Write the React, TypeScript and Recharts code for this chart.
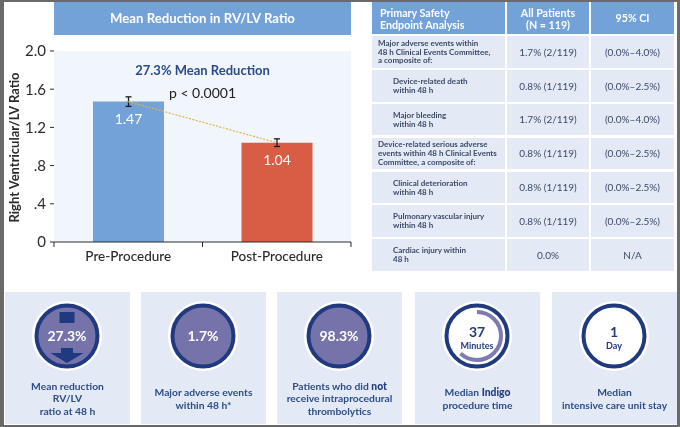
import React from "react";
import { ComposedChart, Bar, Line, XAxis, YAxis, CartesianGrid, Cell, ErrorBar, LabelList } from "recharts";

const categories = ["Pre-Procedure", "Post-Procedure"];
const means = [1.47, 1.04];
const errorHalf = [0.05, 0.04];
const barColors = ["#72A2D8", "#D95D45"];
const yTicks = [0, 0.4, 0.8, 1.2, 1.6, 2.0];
const yTickLabels = ["0", ".4", ".8", "1.2", "1.6", "2.0"];
const chartData = categories.map((name, i) => ({ name, mean: means[i], err: errorHalf[i] }));

const tableHeader = ["Primary Safety\nEndpoint Analysis", "All Patients\n(N = 119)", "95% CI"];
const rowLabels = [
  "Major adverse events within\n48 h Clinical Events Committee,\na composite of:",
  "Device-related death\nwithin 48 h",
  "Major bleeding\nwithin 48 h",
  "Device-related serious adverse\nevents within 48 h Clinical Events\nCommittee, a composite of:",
  "Clinical deterioration\nwithin 48 h",
  "Pulmonary vascular injury\nwithin 48 h",
  "Cardiac injury within\n48 h",
];
const rowIndented = [false, true, true, false, true, true, true];
const rowValues = ["1.7% (2/119)", "0.8% (1/119)", "1.7% (2/119)", "0.8% (1/119)", "0.8% (1/119)", "0.8% (1/119)", "0.0%"];
const rowCI = ["(0.0%–4.0%)", "(0.0%–2.5%)", "(0.0%–4.0%)", "(0.0%–2.5%)", "(0.0%–2.5%)", "(0.0%–2.5%)", "N/A"];
const rowTops = [36, 70, 104, 138, 172, 205, 239];
const rowHeights = [32, 32, 31, 31, 31, 32, 32];

const cards = [
  { left: 5, big: "27.3%", small: "", kind: "arrow", label: [["Mean reduction"], ["RV/LV"], ["ratio at 48 h"]] },
  { left: 141, big: "1.7%", small: "", kind: "fill", label: [["Major adverse events"], ["within 48 h*"]] },
  { left: 277, big: "98.3%", small: "", kind: "fill", label: [["Patients who did ", "not"], ["receive intraprocedural"], ["thrombolytics"]] },
  { left: 415, big: "37", small: "Minutes", kind: "gauge", label: [["Median ", "Indigo"], ["procedure time"]] },
  { left: 552, big: "1", small: "Day", kind: "ring", label: [["Median"], ["intensive care unit stay"]] },
];

const FONT = "Lato, sans-serif";
const NAVY = "#1F3A7E";
const PURPLE = "#7672AA";
const TEXT_BLUE = "#2E4C86";

const XTick = (props: any) => {
  const { x, y, payload } = props;
  const half = 74.25;
  return (
    <g>
      <line x1={x - half} x2={x - half} y1={y - 8} y2={y - 3} stroke="#2b2b2b" />
      <line x1={x + half} x2={x + half} y1={y - 8} y2={y - 3} stroke="#2b2b2b" />
      <text x={x} y={y + 11} textAnchor="middle" fontSize={13.5} fontWeight={500} fill="#2a2a2a" fontFamily={FONT}>
        {payload.value}
      </text>
    </g>
  );
};

const abs = (l: number, t: number, w: number, h: number, extra: any = {}): any => ({
  position: "absolute", left: l, top: t, width: w, height: h, ...extra,
});

function lines(s: string) {
  return s.split("\n").map((t, i) => <div key={i}>{t}</div>);
}

function Badge({ card }: { card: any }) {
  const filled = card.kind === "arrow" || card.kind === "fill";
  return (
    <svg style={abs(24, 6, 76, 76)} viewBox="0 0 76 76">
      <circle cx={38} cy={38} r={35} fill="#FFFFFF" />
      <circle cx={38} cy={38} r={30.5} fill={filled ? PURPLE : "#FFFFFF"} stroke={NAVY} strokeWidth={4} />
      {card.kind === "arrow" && (
        <g fill={NAVY}>
          <rect x={30.5} y={14} width={15} height={11} />
          <path d="M 32 50 H 44 V 55 H 54.5 L 38 65 L 21.5 55 H 32 Z" />
        </g>
      )}
      {card.kind === "gauge" && (
        <circle
          cx={38} cy={38} r={24} fill="none" stroke="#7E7BB3" strokeWidth={4}
          pathLength={100} strokeDasharray="62 38" transform="rotate(-90 38 38)"
        />
      )}
      {filled ? (
        <text x={38} y={43} textAnchor="middle" fontSize={14} fontWeight={700} fill="#fff" fontFamily={FONT}>{card.big}</text>
      ) : (
        <g fontFamily={FONT} textAnchor="middle" fill={NAVY}>
          <text x={38} y={38.5} fontSize={14} fontWeight={700}>{card.big}</text>
          <text x={38} y={50.5} fontSize={9} fontWeight={700}>{card.small}</text>
        </g>
      )}
    </svg>
  );
}

export default function App() {
  return (
    <div style={{ position: "fixed", left: 0, top: 0, width: 680, height: 427, background: "#6A6A6A", overflow: "hidden", fontFamily: FONT, filter: "blur(0.35px)" }}>
      <div style={abs(4, 2, 673, 423, { background: "#fff" })} />

      <div style={abs(54, 2, 297, 33, { background: "#72A2D8", color: "#fff", fontWeight: 700, fontSize: 13.2, textAlign: "center", lineHeight: "33px" })}>
        Mean Reduction in RV/LV Ratio
      </div>

      <div style={abs(0, 0, 370, 280)}>
        <ComposedChart width={370} height={280} data={chartData} margin={{ top: 51, right: 19, bottom: 0, left: 14 }}>
          <CartesianGrid horizontal={false} vertical={false} fill="#F1F5FC" stroke="none" />
          <XAxis dataKey="name" height={38} tickLine={false} stroke="#2b2b2b" tick={<XTick />} interval={0} />
          <YAxis
            width={40} domain={[0, 2]} ticks={yTicks} stroke="#2b2b2b" tickSize={4} tickMargin={4}
            tickFormatter={(v: number) => yTickLabels[yTicks.indexOf(v)]}
            tick={{ fontSize: 15, fill: "#2a2a2a", fontFamily: FONT }}
            axisLine={false}
            label={{ value: "Right Ventricular/LV Ratio", angle: -90, position: "insideLeft", dx: -5, dy: 76, fontSize: 13, fontWeight: 700, fill: "#2a2a2a", fontFamily: FONT }}
          />
          <Bar dataKey="mean" barSize={71} isAnimationActive={false}>
            {chartData.map((d, i) => <Cell key={d.name} fill={barColors[i]} />)}
            <ErrorBar dataKey="err" width={3} stroke="#1c1c1c" strokeWidth={1.3} isAnimationActive={false} />
            <LabelList dataKey="mean" position="insideTop" offset={12} fill="#fff" fontSize={14} fontFamily={FONT} formatter={(v: number) => v.toFixed(2)} />
          </Bar>
          <Line dataKey="mean" stroke="#E5B04F" strokeWidth={1.2} strokeDasharray="2 1.5" dot={false} activeDot={false} isAnimationActive={false} />
        </ComposedChart>
      </div>

      <div style={abs(54, 60, 297, 20, { textAlign: "center", color: "#2B4A8C", fontWeight: 700, fontSize: 13, lineHeight: "20px" })}>27.3% Mean Reduction</div>
      <div style={abs(54, 83, 297, 20, { textAlign: "center", color: "#222", fontSize: 14, lineHeight: "20px" })}>p &lt; 0.0001</div>

      <div style={abs(372, 2, 133, 32, { background: "#72A2D8", color: "#fff", fontWeight: 700, fontSize: 10.7, lineHeight: "12.5px", padding: "4.5px 0 0 8px", boxSizing: "border-box" })}>{lines(tableHeader[0])}</div>
      <div style={abs(507, 2, 82, 32, { background: "#72A2D8", color: "#fff", fontWeight: 700, fontSize: 10.7, lineHeight: "12.5px", padding: "4.5px 0 0 0", boxSizing: "border-box", textAlign: "center" })}>{lines(tableHeader[1])}</div>
      <div style={abs(591, 2, 83, 32, { background: "#72A2D8", color: "#fff", fontWeight: 700, fontSize: 10.7, lineHeight: "32px", textAlign: "center" })}>{tableHeader[2]}</div>

      {rowLabels.map((label, i) => {
        const t = rowTops[i], h = rowHeights[i];
        return (
          <React.Fragment key={i}>
            <div style={abs(372, t, 133, h, { background: "#E3EAF6", color: "#3B4A66", fontSize: 8, fontWeight: 700, lineHeight: "8.8px", display: "flex", flexDirection: "column", justifyContent: "center", paddingLeft: rowIndented[i] ? 21 : 6, boxSizing: "border-box", whiteSpace: "nowrap" })}>{lines(label)}</div>
            <div style={abs(507, t, 82, h, { background: "#E3EAF6", color: "#3B4A66", fontSize: 10, lineHeight: h + "px", textAlign: "center", whiteSpace: "nowrap" })}>{rowValues[i]}</div>
            <div style={abs(591, t, 83, h, { background: "#E3EAF6", color: "#3B4A66", fontSize: 10, lineHeight: h + "px", textAlign: "center", whiteSpace: "nowrap" })}>{rowCI[i]}</div>
          </React.Fragment>
        );
      })}

      {cards.map((c, i) => (
        <div key={i} style={abs(c.left, 292, 125, 132, { background: "#E3EAF6" })}>
          <Badge card={c} />
          <div style={abs(0, 0, 125, 132, { display: "flex", flexDirection: "column", justifyContent: "flex-end", textAlign: "center", color: TEXT_BLUE, fontSize: 10.3, fontWeight: 700, lineHeight: "12.4px", whiteSpace: "nowrap", paddingBottom: c.label.length === 3 ? 7 : 13, boxSizing: "border-box" })}>
            {c.label.map((parts: string[], j: number) => (
              <div key={j}>{parts[0]}{parts[1] ? <b style={{ color: NAVY }}>{parts[1]}</b> : null}</div>
            ))}
          </div>
        </div>
      ))}
    </div>
  );
}
